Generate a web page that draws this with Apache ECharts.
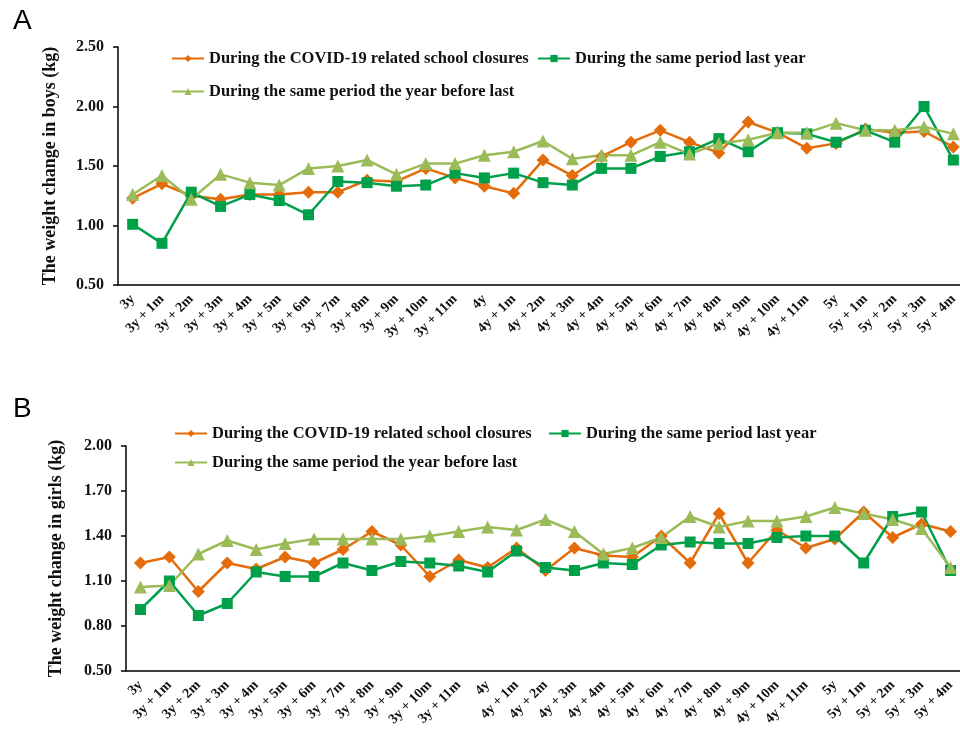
<!DOCTYPE html>
<html>
<head>
<meta charset="utf-8">
<script src="https://cdn.jsdelivr.net/npm/echarts@6/dist/echarts.min.js"></script>
<style>
  html, body { margin: 0; padding: 0; background: #fff; }
  #main { width: 960px; height: 732px; }
</style>
</head>
<body>
<div id="main"></div>
<script>
// categories (age)
var ages = ['3y', '3y + 1m', '3y + 2m', '3y + 3m', '3y + 4m', '3y + 5m', '3y + 6m', '3y + 7m', '3y + 8m', '3y + 9m', '3y + 10m', '3y + 11m',
  '4y', '4y + 1m', '4y + 2m', '4y + 3m', '4y + 4m', '4y + 5m', '4y + 6m', '4y + 7m', '4y + 8m', '4y + 9m', '4y + 10m', '4y + 11m',
  '5y', '5y + 1m', '5y + 2m', '5y + 3m', '5y + 4m'];

var seriesNames = ['During the COVID-19 related school closures', 'During the same period last year', 'During the same period the year before last'];

// boys (A)
var boysClosure = [1.23, 1.35, 1.25, 1.22, 1.26, 1.26, 1.28, 1.28, 1.38, 1.37, 1.48, 1.40, 1.33, 1.27,
  1.55, 1.42, 1.58, 1.70, 1.80, 1.70, 1.61, 1.87, 1.78, 1.65, 1.69, 1.81, 1.78, 1.79, 1.66];
var boysLastYear = [1.01, 0.85, 1.28, 1.16, 1.26, 1.21, 1.09, 1.37, 1.36, 1.33, 1.34, 1.44, 1.40, 1.44,
  1.36, 1.34, 1.48, 1.48, 1.58, 1.62, 1.73, 1.62, 1.78, 1.77, 1.70, 1.80, 1.70, 2.00, 1.55];
var boysYearBefore = [1.26, 1.42, 1.22, 1.43, 1.36, 1.34, 1.48, 1.50, 1.55, 1.43, 1.52, 1.52, 1.59, 1.62,
  1.71, 1.56, 1.59, 1.59, 1.70, 1.60, 1.69, 1.72, 1.78, 1.78, 1.86, 1.80, 1.80, 1.83, 1.77];

// girls (B)
var girlsClosure = [1.22, 1.26, 1.03, 1.22, 1.18, 1.26, 1.22, 1.31, 1.43, 1.34, 1.13, 1.24, 1.19, 1.32,
  1.17, 1.32, 1.27, 1.26, 1.40, 1.22, 1.55, 1.22, 1.44, 1.32, 1.38, 1.56, 1.39, 1.48, 1.43];
var girlsLastYear = [0.91, 1.10, 0.87, 0.95, 1.16, 1.13, 1.13, 1.22, 1.17, 1.23, 1.22, 1.20, 1.16, 1.30,
  1.19, 1.17, 1.22, 1.21, 1.34, 1.36, 1.35, 1.35, 1.39, 1.40, 1.40, 1.22, 1.53, 1.56, 1.17];
var girlsYearBefore = [1.06, 1.07, 1.28, 1.37, 1.31, 1.35, 1.38, 1.38, 1.38, 1.38, 1.40, 1.43, 1.46, 1.44,
  1.51, 1.43, 1.28, 1.32, 1.39, 1.53, 1.46, 1.50, 1.50, 1.53, 1.59, 1.55, 1.51, 1.45, 1.19];

var colors = ['#e46c0a', '#00a04b', '#9bbb59'];
var serif = 'Liberation Serif';

var myChart = echarts.init(document.getElementById('main'));

function legend(name, left, top) {
  return {
    data: [name],
    left: left,
    top: top,
    padding: 0,
    itemWidth: 32,
    itemHeight: 9,
    itemGap: 6,
    selectedMode: false,
    textStyle: { fontFamily: serif, fontWeight: 'bold', fontSize: 16.5, color: '#111' }
  };
}

function xAxis(gridIndex) {
  return {
    type: 'category',
    gridIndex: gridIndex,
    data: ages,
    axisLine: { lineStyle: { color: '#000', width: 1.5 } },
    axisTick: { length: 5, lineStyle: { color: '#000', width: 1.5 } },
    axisLabel: {
      interval: 0,
      rotate: 45,
      margin: 12,
      fontFamily: serif,
      fontWeight: 'bold',
      fontSize: 14,
      color: '#111'
    }
  };
}

function yAxis(gridIndex, min, max, interval, name, gap) {
  return {
    type: 'value',
    gridIndex: gridIndex,
    min: min,
    max: max,
    interval: interval,
    name: name,
    nameLocation: 'middle',
    nameGap: gap,
    nameTextStyle: { fontFamily: serif, fontWeight: 'bold', fontSize: 18, color: '#111' },
    axisLine: { show: true, lineStyle: { color: '#000', width: 1.5 } },
    axisTick: { show: true, length: 5, lineStyle: { color: '#000', width: 1.5 } },
    splitLine: { show: false },
    axisLabel: {
      margin: 14,
      fontFamily: serif,
      fontWeight: 'bold',
      fontSize: 16,
      color: '#111',
      formatter: function (v) { return v.toFixed(2); }
    }
  };
}

function line(name, data, idx, symbol, size, color) {
  return {
    name: name,
    type: 'line',
    xAxisIndex: idx,
    yAxisIndex: idx,
    data: data,
    symbol: symbol,
    symbolSize: size,
    showSymbol: true,
    lineStyle: { color: color, width: 2.5 },
    itemStyle: { color: color },
    animation: false
  };
}

myChart.setOption({
  color: colors,
  title: [
    { text: 'A', left: 8, top: 2, textStyle: { fontFamily: 'Liberation Sans', fontWeight: 'normal', fontSize: 28, color: '#000' } },
    { text: 'B', left: 8, top: 390, textStyle: { fontFamily: 'Liberation Sans', fontWeight: 'normal', fontSize: 28, color: '#000' } }
  ],
  legend: [
    legend(seriesNames[0], 171, 50),
    legend(seriesNames[1], 537, 50),
    legend(seriesNames[2], 171, 83),
    legend(seriesNames[0], 174, 425),
    legend(seriesNames[1], 548, 425),
    legend(seriesNames[2], 174, 454)
  ],
  grid: [
    { left: 118, top: 47, width: 850, height: 238, outerBoundsMode: 'none' },
    { left: 126, top: 446, width: 839, height: 225, outerBoundsMode: 'none' }
  ],
  xAxis: [xAxis(0), xAxis(1)],
  yAxis: [
    yAxis(0, 0.5, 2.5, 0.5, 'The weight change in boys (kg)', 59),
    yAxis(1, 0.5, 2.0, 0.3, 'The weight change in girls (kg)', 61)
  ],
  series: [
    line(seriesNames[0], boysClosure, 0, 'diamond', 13, colors[0]),
    line(seriesNames[1], boysLastYear, 0, 'rect', 11, colors[1]),
    line(seriesNames[2], boysYearBefore, 0, 'triangle', 13, colors[2]),
    line(seriesNames[0], girlsClosure, 1, 'diamond', 13, colors[0]),
    line(seriesNames[1], girlsLastYear, 1, 'rect', 11, colors[1]),
    line(seriesNames[2], girlsYearBefore, 1, 'triangle', 13, colors[2])
  ]
});
</script>
</body>
</html>
